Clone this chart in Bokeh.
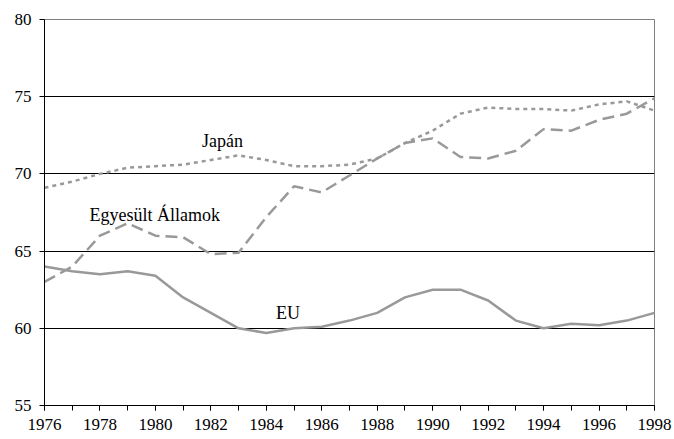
from bokeh.plotting import figure
from bokeh.models import FixedTicker, Range1d, Label
from bokeh.embed import file_html
from bokeh.resources import INLINE

years = list(range(1976, 1999))
eu = [64.0, 63.7, 63.5, 63.7, 63.4, 62.0, 61.0, 60.0, 59.7, 60.0, 60.1, 60.5,
      61.0, 62.0, 62.5, 62.5, 61.8, 60.5, 60.0, 60.3, 60.2, 60.5, 61.0]
usa = [63.0, 64.0, 66.0, 66.8, 66.0, 65.9, 64.8, 64.9, 67.2, 69.2, 68.8, 69.9,
       71.0, 72.0, 72.3, 71.1, 71.0, 71.5, 72.9, 72.8, 73.5, 73.9, 74.9]
japan = [69.1, 69.5, 70.0, 70.4, 70.5, 70.6, 70.9, 71.2, 70.9, 70.5, 70.5, 70.6,
         71.0, 72.0, 72.8, 73.9, 74.3, 74.2, 74.2, 74.1, 74.5, 74.7, 74.1]

x_label_ticks = list(range(1976, 1999, 2))
y_ticks = [55, 60, 65, 70, 75, 80]

labels = ["Japán", "Egyesült Államok", "EU"]
label_x = [1982.42, 1979.98, 1984.78]
label_y = [72.1, 67.37, 60.96]

FONT = "Liberation Serif, DejaVu Serif, serif"
SERIES = "#999999"

p = figure(width=674, height=439, output_backend="svg", toolbar_location=None,
           x_range=Range1d(1976, 1998), y_range=Range1d(55, 80),
           min_border_left=44, min_border_right=20, min_border_top=19,
           min_border_bottom=34)
p.background_fill_color = "white"
p.border_fill_color = "white"
p.outline_line_color = "#808080"
p.outline_line_width = 1

p.line(years, japan, line_color=SERIES, line_width=2.5, line_dash="4 4")
p.line(years, usa, line_color=SERIES, line_width=2.5, line_dash="12 6")
p.line(years, eu, line_color=SERIES, line_width=2.5)

for t, lx, ly in zip(labels, label_x, label_y):
    p.add_layout(Label(x=lx, y=ly, text=t, text_font=FONT, text_font_size="18px",
                       text_align="center", text_baseline="middle", text_color="black"))

p.xaxis.ticker = FixedTicker(ticks=x_label_ticks, minor_ticks=years)
p.yaxis.ticker = FixedTicker(ticks=y_ticks, minor_ticks=[])
p.xgrid.visible = False
p.ygrid.ticker = FixedTicker(ticks=[60, 65, 70, 75])
p.ygrid.grid_line_color = "black"
p.ygrid.grid_line_width = 1

for ax in (p.xaxis[0], p.yaxis[0]):
    ax.axis_line_color = "black"
    ax.axis_line_width = 1
    ax.major_tick_line_color = "black"
    ax.minor_tick_line_color = "black"
    ax.major_tick_in = 0
    ax.major_tick_out = 5
    ax.minor_tick_in = 0
    ax.minor_tick_out = 5
    ax.major_label_text_font = FONT
    ax.major_label_text_font_size = "17px"
    ax.major_label_text_color = "black"

p.xaxis.major_label_standoff = 8
p.yaxis.major_label_standoff = 8
p.yaxis.minor_tick_out = 0

open("out.html", "w").write(file_html(p, INLINE))
